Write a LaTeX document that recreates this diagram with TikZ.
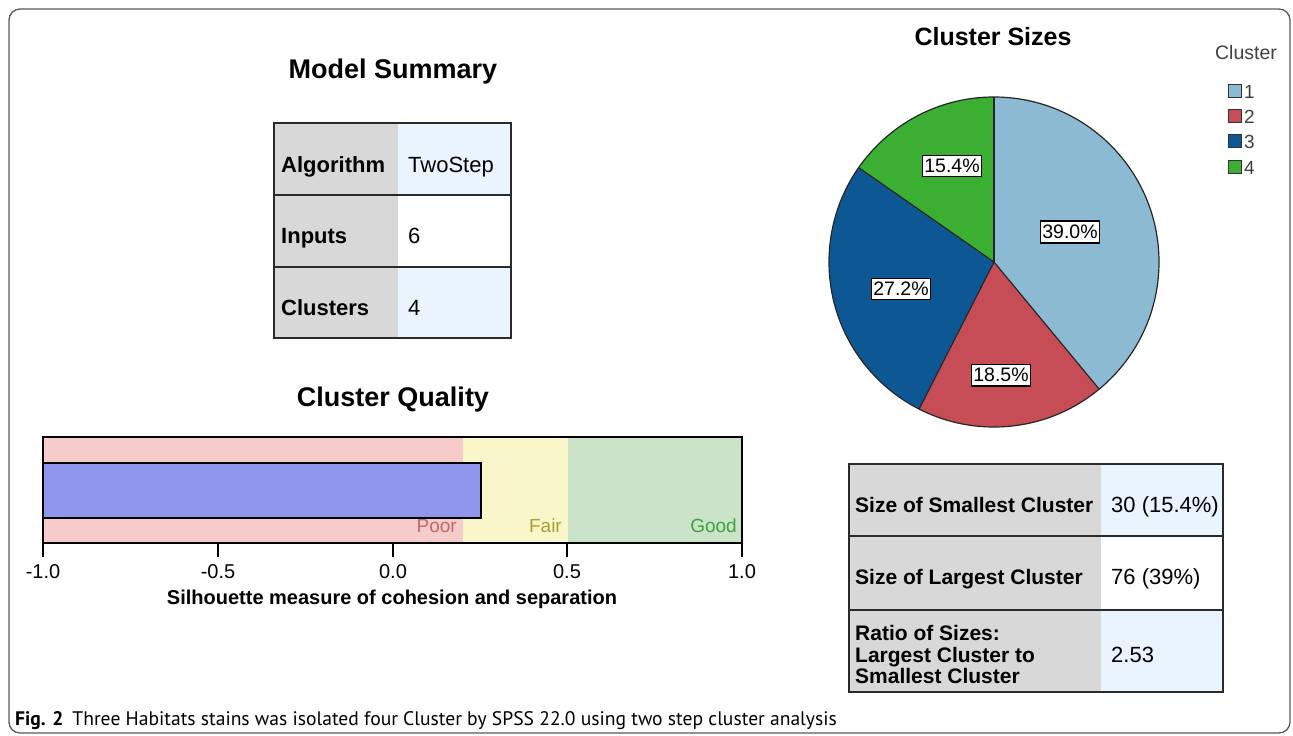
\documentclass[tikz,border=0pt]{standalone}
\usepackage{fontspec}
\setmainfont{Liberation Sans}
\newfontfamily\capfont{PT Sans}
\definecolor{framegray}{HTML}{5A5A5A}
\definecolor{labgray}{HTML}{D8D8D8}
\definecolor{valblue}{HTML}{EAF4FE}
\definecolor{tblline}{HTML}{2A2A2A}
\definecolor{poorbg}{HTML}{F8CBCB}
\definecolor{fairbg}{HTML}{F9F7C9}
\definecolor{goodbg}{HTML}{CBE3C9}
\definecolor{barblue}{HTML}{9096EE}
\definecolor{poortxt}{HTML}{C06868}
\definecolor{fairtxt}{HTML}{A8A033}
\definecolor{goodtxt}{HTML}{3DA33D}
\definecolor{cone}{HTML}{8DBAD3}
\definecolor{ctwo}{HTML}{C64D55}
\definecolor{cthree}{HTML}{0D5894}
\definecolor{cfour}{HTML}{3AAF31}
\definecolor{legtxt}{HTML}{404040}
\begin{document}
\begin{tikzpicture}[x=1pt,y=-1pt,
  title/.style={inner sep=0pt,font=\fontsize{27}{30}\selectfont\bfseries},
  lab/.style={inner sep=0pt,anchor=base west,font=\fontsize{22}{24}\selectfont\bfseries},
  rlab/.style={inner sep=0pt,anchor=base west,font=\fontsize{21}{21}\selectfont\bfseries},
  val/.style={inner sep=0pt,anchor=base west,font=\fontsize{22}{24}\selectfont},
  tline/.style={draw=tblline,line width=2pt},
  tick/.style={inner sep=0pt,anchor=base,font=\fontsize{20}{22}\selectfont},
  zone/.style={inner sep=0pt,anchor=base east,font=\fontsize{19}{21}\selectfont},
  slice/.style={draw=black!85,line width=1.2pt},
  pct/.style={draw=black,line width=1.2pt,fill=white,inner xsep=2pt,inner ysep=4pt,font=\fontsize{19.5}{21}\selectfont},
  legsq/.style={draw=black!80,line width=1pt,minimum size=13pt,inner sep=0pt},
  legnum/.style={inner sep=0pt,anchor=west,font=\fontsize{19}{21}\selectfont,text=legtxt}
]
\useasboundingbox (0,0) rectangle (1293,736);
\fill[white] (0,0) rectangle (1293,736);
\draw[framegray,line width=1.3pt,rounded corners=11pt] (9,9) rectangle (1290,733);

% ---------- Model Summary ----------
\node[title] (mstitle) at (393,72) {Model Summary};
\fill[labgray] (274,123) rectangle (398,338);
\fill[valblue] (398,123) rectangle (511,195);
\fill[white] (398,195) rectangle (511,267);
\fill[valblue] (398,267) rectangle (511,338);
\draw[tline] (274,123) rectangle (511,338);
\draw[tline] (274,195) -- (511,195);
\draw[tline] (274,267) -- (511,267);
\node[lab] (alg) at (281,172) {Algorithm};
\node[val] (algv) at (408,172) {TwoStep};
\node[lab] (inp) at (281,243) {Inputs};
\node[val] (inpv) at (408,243) {6};
\node[lab] (clu) at (281,315) {Clusters};
\node[val] (cluv) at (408,315) {4};

% ---------- Cluster Quality ----------
\node[title] (cqtitle) at (393,400) {Cluster Quality};
\fill[poorbg] (43,437) rectangle (463,543);
\fill[fairbg] (463,437) rectangle (568,543);
\fill[goodbg] (568,437) rectangle (742,543);
\draw[black,line width=2pt] (43,437) rectangle (742,543);
\draw[black,line width=2pt,fill=barblue] (43,463) rectangle (481,518);
\node[zone,text=poortxt] (poor) at (457,532) {Poor};
\node[zone,text=fairtxt] (fair) at (562,532) {Fair};
\node[zone,text=goodtxt] (good) at (737,532) {Good};
\foreach \xx/\lbl/\nm in {43/-1.0/ta,218/-0.5/tb,393/0.0/tc,567/0.5/td,742/1.0/te}{
  \draw[black,line width=2pt] (\xx,543) -- (\xx,557);
  \node[tick] (\nm) at (\xx,578) {\lbl};
}
\node[inner sep=0pt,anchor=base,font=\fontsize{20}{22}\selectfont\bfseries] (axtitle) at (392,604) {Silhouette measure of cohesion and separation};

% ---------- Cluster Sizes ----------
\node[inner sep=0pt,font=\fontsize{25}{28}\selectfont\bfseries] (cstitle) at (993,37) {Cluster Sizes};
\coordinate (pc) at (994,262);
\fill[cone]   (pc) -- ++(-90:165) arc[start angle=-90,end angle=50.4,radius=165] -- cycle;
\fill[ctwo]   (pc) -- ++(50.4:165) arc[start angle=50.4,end angle=117,radius=165] -- cycle;
\fill[cthree] (pc) -- ++(117:165) arc[start angle=117,end angle=214.9,radius=165] -- cycle;
\fill[cfour]  (pc) -- ++(214.9:165) arc[start angle=214.9,end angle=270,radius=165] -- cycle;
\draw[slice] (pc) circle[radius=165];
\foreach \a in {-90,50.4,117,214.9}{\draw[slice] (pc) -- ++(\a:165);}
\node[pct] (p1) at (1070,232) {39.0\%};
\node[pct] (p2) at (1001,375) {18.5\%};
\node[pct] (p3) at (901,289) {27.2\%};
\node[pct] (p4) at (952,166) {15.4\%};

% legend
\node[inner sep=0pt,font=\fontsize{19.5}{21}\selectfont,text=legtxt] (legt) at (1246,53) {Cluster};
\node[legsq,fill=cone]   (l1) at (1235,91) {};
\node[legsq,fill=ctwo]   (l2) at (1235,116) {};
\node[legsq,fill=cthree] (l3) at (1235,141) {};
\node[legsq,fill=cfour]  (l4) at (1235,167) {};
\node[legnum] (n1) at (1244,92) {1};
\node[legnum] (n2) at (1244,117) {2};
\node[legnum] (n3) at (1244,142) {3};
\node[legnum] (n4) at (1244,168) {4};

% ---------- Size table ----------
\fill[labgray] (849,464) rectangle (1101,692);
\fill[valblue] (1101,464) rectangle (1223,536);
\fill[white] (1101,536) rectangle (1223,610);
\fill[valblue] (1101,610) rectangle (1223,692);
\draw[tline] (849,464) rectangle (1223,692);
\draw[tline] (849,536) -- (1223,536);
\draw[tline] (849,610) -- (1223,610);
\node[rlab] (ss) at (855,512) {Size of Smallest Cluster};
\node[val] (ssv) at (1111,512) {30 (15.4\%)};
\node[rlab] (sl) at (855,584) {Size of Largest Cluster};
\node[val] (slv) at (1111,584) {76 (39\%)};
\node[rlab] (r1) at (855,640) {Ratio of Sizes:};
\node[rlab] (r2) at (855,662) {Largest Cluster to};
\node[rlab] (r3) at (855,683) {Smallest Cluster};
\node[val] (rv) at (1111,662) {2.53};

% ---------- caption ----------
\node[inner sep=0pt,anchor=base west,font=\capfont\fontsize{19.6}{21}\selectfont] (cap) at (15,725)
  {\textbf{Fig. 2}\hspace{9pt}Three Habitats stains was isolated four Cluster by SPSS 22.0 using two step cluster analysis};
\end{tikzpicture}
\end{document}
